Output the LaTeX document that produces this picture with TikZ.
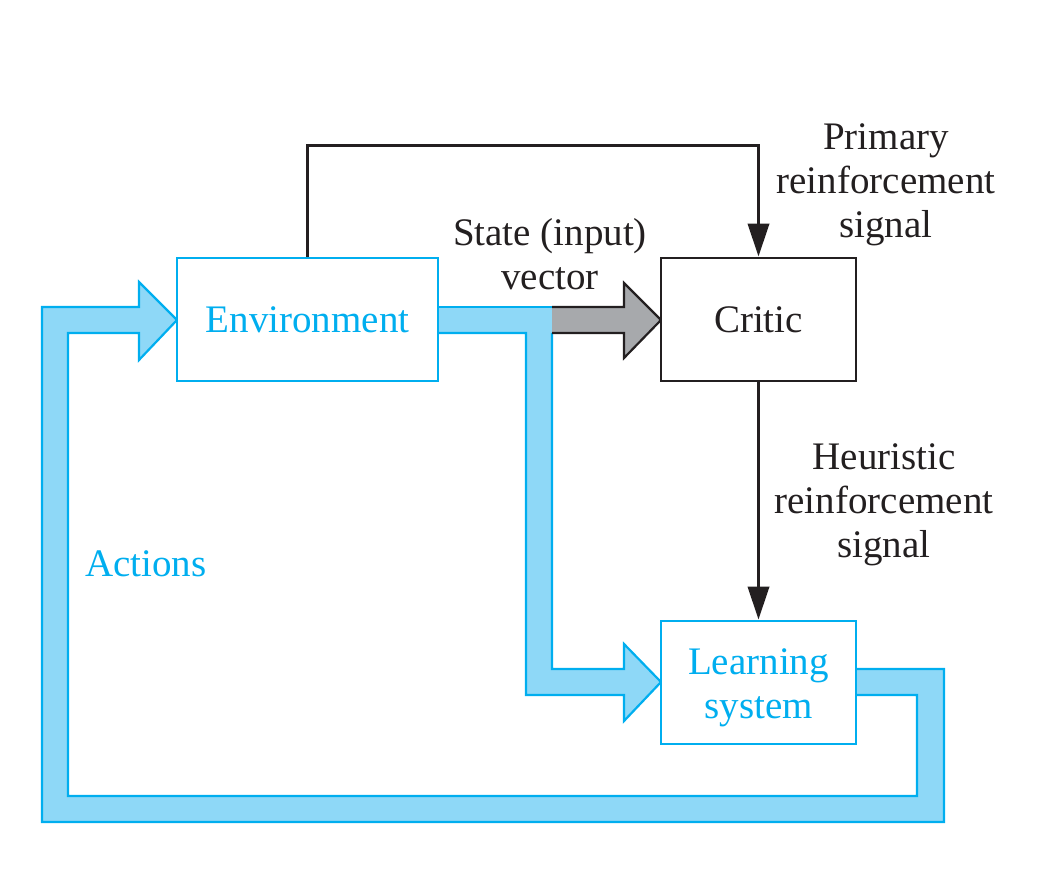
\documentclass[tikz,border=0pt]{standalone}
\usepackage{fontspec}
\setmainfont{Liberation Serif}
\usetikzlibrary{arrows.meta}
\definecolor{cyanline}{RGB}{0,174,239}
\definecolor{cyanfill}{RGB}{142,216,247}
\definecolor{grayfill}{RGB}{167,169,172}
\definecolor{ink}{RGB}{35,31,32}
\tikzset{
  box/.style={draw, line width=2.8pt, fill=white, minimum height=123pt, inner sep=0pt, align=center},
  bluebox/.style={box, draw=cyanline, text=cyanline},
  blackbox/.style={box, draw=ink, text=ink},
  lbl/.style={align=center, text=ink, inner sep=0pt},
  conn/.style={draw=ink, line width=3.8pt, -{Triangle[length=33pt,width=21pt]}},
  bandline/.style={draw=cyanline, line width=2.2pt, line join=miter},
}
\begin{document}
\begin{tikzpicture}[x=1pt,y=-1pt,font=\fontsize{39}{44}\selectfont]
\useasboundingbox (0,0) rectangle (1058,877);
% Actions feedback band
\fill[cyanfill] (856,669)--(944,669)--(944,822)--(42,822)--(42,307)--(139,307)--(139,282)--(177,320)--(139,360)--(139,333)--(68,333)--(68,796)--(917,796)--(917,695)--(856,695)--cycle;
\draw[bandline] (856,669)--(944,669)--(944,822)--(42,822)--(42,307)--(139,307)--(139,282)--(177,320)--(139,360)--(139,333)--(68,333)--(68,796)--(917,796)--(917,695)--(856,695);
% State band to learning system
\fill[cyanfill] (438,307)--(552,307)--(552,669)--(624,669)--(624,644)--(661,682)--(624,721)--(624,695)--(526,695)--(526,333)--(438,333)--cycle;
\draw[bandline] (438,307)--(552,307);
\draw[bandline] (552,333)--(552,669)--(624,669)--(624,644)--(661,682)--(624,721)--(624,695)--(526,695)--(526,333)--(438,333);
% Gray state arrow to critic
\fill[grayfill] (552,307)--(624,307)--(624,283)--(661,320)--(624,358)--(624,333)--(552,333)--cycle;
\draw[draw=ink, line width=2.2pt, line join=miter] (552,307)--(624,307)--(624,283)--(661,320)--(624,358)--(624,333)--(552,333);
% Boxes
\node[bluebox, minimum width=261pt] (env) at (307.5,319.5) {Environment};
\node[blackbox, minimum width=195pt] (critic) at (758.5,319.5) {Critic};
\node[bluebox, minimum width=195pt] (learn) at (758.5,682.5) {\raisebox{-5pt}[\height][\depth]{\begin{tabular}{@{}c@{}}Learning\\system\end{tabular}}};
% Connectors
\draw[conn] (env.north) -- ++(0,-111) -| (critic.north);
\draw[conn] (critic.south) -- (learn.north);
% Labels
\node[lbl] (primary) at (886,185) {Primary\\reinforcement\\signal};
\node[lbl] (state) at (550,254) {State (input)\\vector};
\node[lbl] (heur) at (884,505) {Heuristic\\reinforcement\\signal};
\node[lbl, text=cyanline, anchor=west] (actions) at (85,564) {Actions};
\end{tikzpicture}
\end{document}
